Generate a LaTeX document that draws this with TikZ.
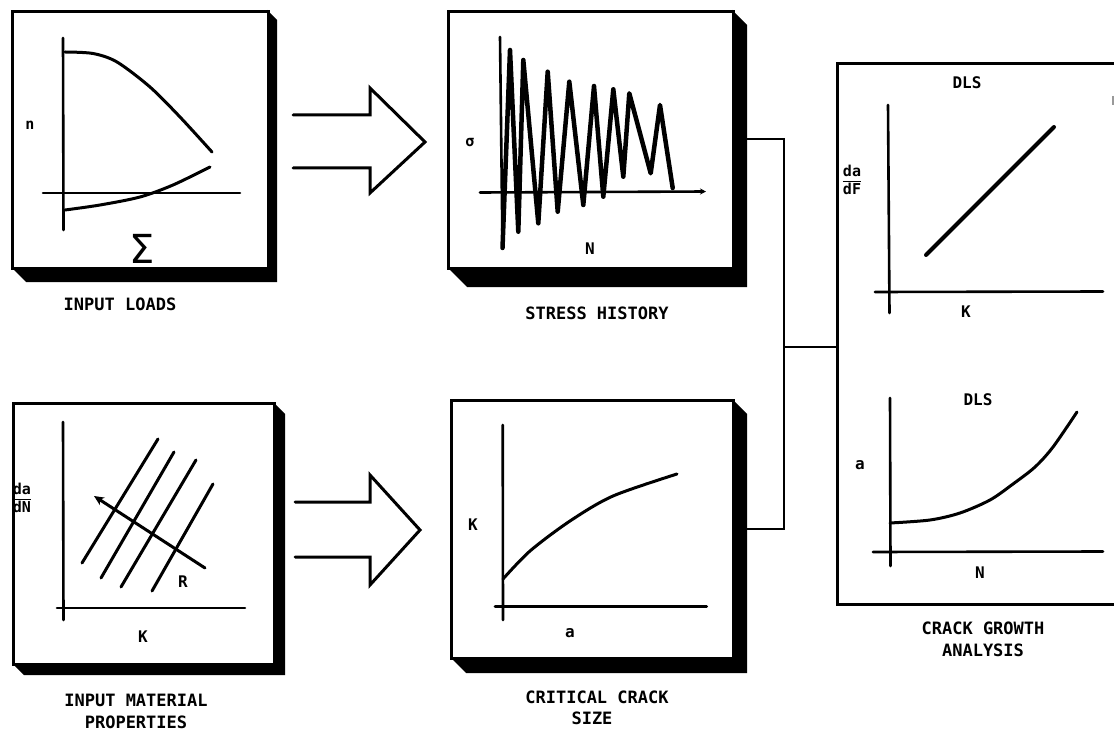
\documentclass[tikz,border=0pt]{standalone}
\usepackage{fontspec}
\newfontfamily\lblfont{DejaVu Sans Mono}
\newfontfamily\symfont{DejaVu Sans}
\usetikzlibrary{arrows.meta}
\newcommand\myfrac[2]{{\setlength\arrayrulewidth{1.5pt}\renewcommand\arraystretch{0.85}\begin{tabular}{@{}c@{}}#1\\\hline\noalign{\vskip1pt}#2\end{tabular}}}
\newcommand\mypanel[7]{%
  \fill (#4,#3) -- (#4+#6,#3+#6) -- (#4+#6,#5+#7) -- (#2+#7,#5+#7) -- (#2,#5) -- cycle;
  \node[panel, minimum width={(#4-#2)*1pt}, minimum height={(#5-#3)*1pt}] (#1) at (#2,#3) {};
}
\tikzset{
  panel/.style={draw, line width=3.2pt, fill=white, rectangle, inner sep=0pt, anchor=north west},
  axis/.style={line width=2.6pt, line cap=round},
  curve/.style={line width=3pt, line cap=round, line join=round},
  wave/.style={line width=4.5pt, line cap=round, line join=round},
  link/.style={line width=2.6pt},
  blockarrow/.style={line width=3pt, line join=miter, line cap=round},
  lbl/.style={font=\lblfont\bfseries\fontsize{16}{18}\selectfont, inner sep=0pt},
  fraclbl/.style={font=\lblfont\bfseries\fontsize{15}{16}\selectfont, inner sep=0pt},
  caption/.style={font=\lblfont\bfseries\fontsize{17}{22}\selectfont, inner sep=0pt, align=center},
  small/.style={font=\lblfont\bfseries\fontsize{15}{17}\selectfont, inner sep=0pt},
  sigmabig/.style={font=\symfont\fontsize{40}{40}\selectfont, inner sep=0pt},
}
\begin{document}
\begin{tikzpicture}[x=1pt,y=-1pt]
\useasboundingbox (0,0) rectangle (1114,730);
\fill[white] (0,0) rectangle (1114,730);

% panels with shadows
\mypanel{p1}{11}{10}{267}{267}{10}{15}
\mypanel{p2}{447}{10}{732}{267}{15}{20}
\mypanel{p4}{12}{402}{273}{663}{12}{12}
\mypanel{p5}{450}{399}{732}{657}{15}{16}
\node[panel, minimum width=300pt, minimum height=541pt] (p3) at (836,62) {};

% block arrows
\draw[blockarrow] (293,115) -- (370,115) -- (370,88) -- (425,142) -- (370,193) -- (370,168) -- (293,168);
\draw[blockarrow] (295,502) -- (370,502) -- (370,475) -- (420,530) -- (370,585) -- (370,557) -- (295,557);

% connectors
\coordinate (j) at (784,347);
\draw[link] (p2.east |- 0,139) -| (j) -- (p3.west |- j);
\draw[link] (p5.east |- 0,529) -| (j);

% panel 1: input loads
\draw[axis] (63,38) -- (63.5,230);
\draw[axis] (43,193) -- (240,193);
\draw[curve] plot[smooth] coordinates {(65,52) (93,53.5) (117,62) (150,87) (180,117) (212,152)};
\draw[curve] plot[smooth] coordinates {(65,210) (100,205) (140,197) (173,185) (210,167)};
\node[small] (ln) at (30,125) {n};
\node[sigmabig] (sig) at (142,249) {Σ};
\node[caption] (c1) at (120,304) {INPUT LOADS};

% panel 2: stress history
\draw[axis] (500,37) -- (502.5,248);
\draw[axis, -{Stealth[length=6pt,width=6pt]}] (480,192.5) -- (706,191.5);
\draw[wave] (502.5,248) -- (510,50) -- (518.3,231.7) -- (523.3,60) -- (538.3,223.3) -- (547.7,71.7) -- (557.7,211.7) -- (569.3,81.7) -- (583.3,205) -- (594,86) -- (603.3,196.7) -- (613.3,89.3) -- (623.3,176.7) -- (629.3,93.3) -- (650.7,173.3) -- (660,105) -- (672.7,188);
\node[small] (ls) at (470,143) {σ};
\node[lbl] (lN2) at (590,249) {N};
\node[caption] (c2) at (597,313) {STRESS HISTORY};

% panel 4: input material properties
\draw[axis] (63,422) -- (63.5,620);
\draw[axis] (57,608) -- (245,608);
\draw[curve] (82,563) -- (158,439);
\draw[curve] (101,578) -- (174,452);
\draw[curve] (121,587) -- (196,460);
\draw[curve] (152,591) -- (213,484);
\draw[curve, -{Stealth[length=10pt,width=9pt]}] (205,568) -- (94,496);
\node[lbl] (lR) at (183,582) {R};
\node[lbl] (lK4) at (143,637) {K};
\node[fraclbl] (lf4) at (22,500) {\myfrac{da}{dN}};
\node[caption] (c4) at (136,711) {INPUT MATERIAL\\PROPERTIES};

% panel 5: critical crack size
\draw[axis] (502.7,425) -- (503,620);
\draw[axis] (495,606.7) -- (706.7,606.7);
\draw[curve] plot[smooth] coordinates {(503,579) (530,551) (570,521) (613,496) (677,474)};
\node[lbl] (lK5) at (473,525) {K};
\node[lbl] (la5) at (570,633) {a};
\node[caption] (c5a) at (597,697) {CRITICAL CRACK};
\node[caption] (c5b) at (592,718) {SIZE};

% panel 3: crack growth analysis
\draw[axis] (888,105) -- (889.5,313);
\draw[axis] (875,292) -- (1103,291.5);
\draw[curve, line width=4pt] (926,255) -- (1054,127);
\node[lbl] (ld1) at (967,83) {DLS};
\node[fraclbl] (lf3) at (852,182) {\myfrac{da}{dF}};
\node[lbl] (lK3) at (966,312) {K};
\draw[axis] (890,398) -- (890.5,566);
\draw[axis] (873,552) -- (1103,551.5);
\draw[curve] plot[smooth] coordinates {(890,523) (930,520) (960,513) (990,500) (1013,484) (1035,467) (1053,447) (1077,412)};
\node[lbl] (ld2) at (978,400) {DLS};
\node[lbl] (la3) at (860,465) {a};
\node[lbl] (lN3) at (980,573) {N};
\node[caption] (c3) at (983,639) {CRACK GROWTH\\ANALYSIS};

\draw[black!40, line width=1.5pt] (1113,96) -- (1113,105);
\end{tikzpicture}
\end{document}
